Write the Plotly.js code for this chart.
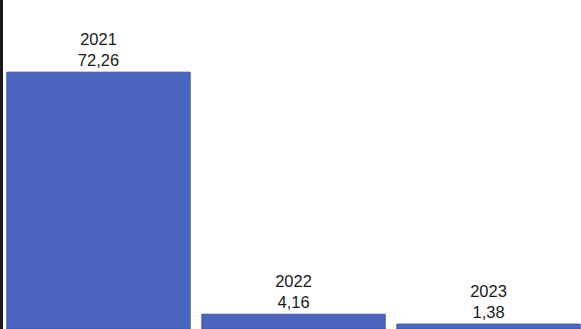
<!DOCTYPE html>
<html>
<head>
<meta charset="utf-8">
<script src="https://cdn.plot.ly/plotly-3.0.1.min.js"></script>
<style>html,body{margin:0;padding:0;background:#fff;}#chart{width:581px;height:329px;}</style>
</head>
<body>
<div id="chart"></div>
<script>
const years = ['2021', '2022', '2023'];
const values = [72.26, 4.16, 1.38];

const trace = {
  type: 'bar',
  x: years,
  y: values,
  marker: { color: '#4a65bd', line: { color: '#3f57ad', width: 1 } },
  texttemplate: '%{x}<br>%{y:.2f}',
  textposition: 'outside',
  cliponaxis: false,
  textfont: { family: 'Liberation Sans, Arial, sans-serif', size: 16.5, color: '#1a1a1a' },
  hoverinfo: 'none'
};

const layout = {
  width: 581,
  height: 329,
  margin: { l: 3, r: 0, t: 0, b: 0, pad: 0 },
  paper_bgcolor: '#ffffff',
  plot_bgcolor: '#ffffff',
  separators: ',.',
  bargap: 0.06,
  showlegend: false,
  xaxis: {
    type: 'category',
    range: [-0.4897, 2.474],
    showticklabels: false,
    showgrid: false,
    zeroline: false,
    ticks: '',
    showline: false
  },
  yaxis: {
    range: [0, 92.57],
    showticklabels: false,
    showgrid: false,
    zeroline: false,
    ticks: '',
    showline: true,
    linecolor: '#1a1a1a',
    linewidth: 3
  }
};

Plotly.newPlot('chart', [trace], layout, { displayModeBar: false, staticPlot: true });
</script>
</body>
</html>
